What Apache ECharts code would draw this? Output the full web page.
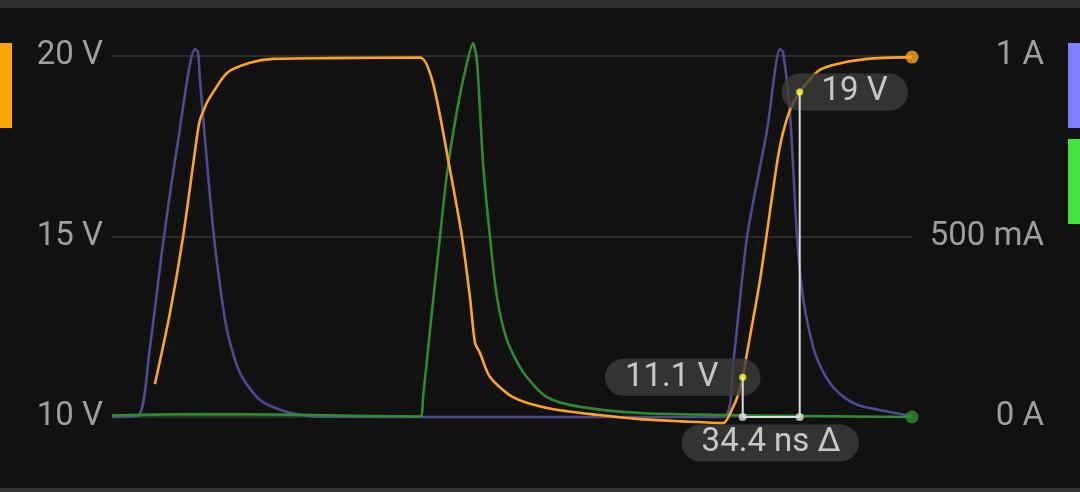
<!DOCTYPE html>
<html>
<head>
<meta charset="utf-8">
<script src="https://cdn.jsdelivr.net/npm/echarts@6/dist/echarts.min.js"></script>
<style>
html,body{margin:0;padding:0;background:#111111;}
#c{width:1080px;height:492px;}
</style>
</head>
<body>
<div id="c"></div>
<script>
// Time axis in ns
const voltT = [25.9, 35.0, 42.9, 51.3, 53.1, 57.2, 59.2, 69.4, 83.3, 97.2, 131.6, 186.0, 193.8, 204.1, 211.3, 216.1, 219.2, 222.2, 228.2, 242.1, 262.6, 292.8, 318.8, 344.0, 368.9, 375.0, 378.0, 380.8, 383.4, 391.2, 398.5, 402.1, 405.1, 409.3, 415.2, 425.6, 435.3, 455.8, 483.0];
const voltV = [10.91, 12.88, 14.99, 17.76, 18.23, 18.70, 18.86, 19.53, 19.81, 19.92, 19.94, 19.96, 19.25, 16.84, 14.99, 13.32, 12.05, 11.77, 11.11, 10.55, 10.25, 10.06, 9.94, 9.88, 9.83, 10.28, 10.61, 11.1, 11.77, 13.79, 16.09, 17.20, 17.87, 18.50, 19.0, 19.56, 19.75, 19.92, 19.97];

const cur1T = [0, 15.7, 22.9, 30.8, 39.4, 50.1, 51.9, 53.1, 59.2, 63.4, 69.4, 77.3, 89.4, 105.7, 123.8, 200.0, 368.9, 375.0, 383.4, 395.5, 403.3, 405.1, 409.3, 413.6, 417.2, 423.3, 429.3, 435.3, 442.5, 451.6, 469.7, 483.0];
const cur1A = [0, 0.003, 0.194, 0.48, 0.75, 1.019, 1.011, 0.934, 0.609, 0.427, 0.241, 0.122, 0.047, 0.014, 0.001, 0, 0, 0.15, 0.499, 0.795, 1.019, 1.011, 0.842, 0.499, 0.332, 0.194, 0.125, 0.083, 0.053, 0.031, 0.014, 0.003];

const cur2T = [0, 53.1, 113.5, 186.0, 187.8, 192.0, 198.0, 202.3, 208.3, 214.3, 218.0, 220.4, 224.0, 228.2, 232.4, 238.5, 248.1, 262.6, 282.6, 318.8, 362.8, 415.4, 483.0];
const cur2A = [0.004, 0.008, 0.006, 0.001, 0.055, 0.241, 0.499, 0.676, 0.850, 0.981, 1.036, 0.983, 0.704, 0.499, 0.332, 0.213, 0.125, 0.055, 0.028, 0.011, 0.006, 0.003, 0];

const cursorT = [380.8, 415.2];
const cursorV = [11.1, 19.0];
const cursorLabels = ['11.1 V', '19 V'];
const deltaLabel = '34.4 ns Δ';

const voltTicks = {10: '10 V', 15: '15 V', 20: '20 V'};
const curTicks = {0: '0 A', 0.5: '500 mA', 1: '1 A'};

const zip = (a, b) => a.map((v, i) => [v, b[i]]);

const FONT = 'Roboto';
const labelBox = {
  show: true,
  position: 'inside',
  fontFamily: FONT,
  fontSize: 33,
  color: '#ececec',
  backgroundColor: '#3c3d3b',
  borderRadius: 19,
  lineHeight: 37,
  height: 37
};

const chart = echarts.init(document.getElementById('c'), null, {renderer: 'canvas'});
chart.setOption({
  backgroundColor: '#111111',
  animation: false,
  grid: {left: 112, right: 168, top: 56, bottom: 75},
  xAxis: {type: 'value', min: 0, max: 483, show: false},
  yAxis: [
    {
      type: 'value', min: 10, max: 20, interval: 5, position: 'left',
      axisLine: {show: false}, axisTick: {show: false},
      axisLabel: {formatter: v => voltTicks[v], color: '#9e9e9e', fontFamily: FONT, fontSize: 33, margin: 9},
      splitLine: {lineStyle: {color: '#363636', width: 1.5}}
    },
    {
      type: 'value', min: 0, max: 1, interval: 0.5, position: 'right',
      axisLine: {show: false}, axisTick: {show: false},
      axisLabel: {formatter: v => curTicks[v], color: '#9e9e9e', fontFamily: FONT, fontSize: 33, align: 'right', margin: 132},
      splitLine: {show: false}
    }
  ],
  series: [
    {
      type: 'line', yAxisIndex: 1, data: zip(cur1T, cur1A), symbol: 'none', z: 2, clip: false,
      smooth: 0.25,
      lineStyle: {color: '#4b4b92', width: 2.6}
    },
    {
      type: 'line', yAxisIndex: 1, data: zip(cur2T, cur2A), symbol: 'none', z: 2, clip: false,
      smooth: 0.25,
      lineStyle: {color: '#2f8a31', width: 2.6}
    },
    {
      type: 'line', yAxisIndex: 0, data: zip(voltT, voltV), symbol: 'none', z: 2, clip: false,
      smooth: 0.25,
      lineStyle: {color: '#ffa41c', width: 2.6}
    },
    {
      type: 'scatter', yAxisIndex: 0, z: 2, symbol: 'circle', symbolSize: 13, clip: false,
      itemStyle: {color: '#ffa41c'},
      data: [[voltT[voltT.length - 1], voltV[voltV.length - 1]]]
    },
    {
      type: 'scatter', yAxisIndex: 1, z: 2, symbol: 'circle', symbolSize: 13, clip: false,
      itemStyle: {color: '#2f8a31'},
      data: [[cur2T[cur2T.length - 1], cur2A[cur2A.length - 1]]]
    },
    // label boxes
    {
      type: 'scatter', yAxisIndex: 0, z: 3, symbolSize: 1, clip: false,
      itemStyle: {color: 'rgba(0,0,0,0)'},
      data: [
        {value: [cursorT[0], cursorV[0]], label: Object.assign({}, labelBox, {formatter: cursorLabels[0], padding: [0, 42, 0, 20], offset: [-60, 0]})},
        {value: [cursorT[1], cursorV[1]], label: Object.assign({}, labelBox, {formatter: cursorLabels[1], padding: [0, 20, 0, 40], offset: [45, 0]})},
        {value: [(cursorT[0] + cursorT[1]) / 2, 10], label: Object.assign({}, labelBox, {formatter: deltaLabel, padding: [0, 18, 0, 20], offset: [-1, 26]})}
      ]
    },
    // bracket
    {
      type: 'line', yAxisIndex: 0, z: 4, symbol: 'none', clip: false,
      lineStyle: {color: '#dcdcdc', width: 2},
      data: [[cursorT[0], cursorV[0]], [cursorT[0], 10], [cursorT[1], 10], [cursorT[1], cursorV[1]]]
    },
    {
      type: 'scatter', yAxisIndex: 0, z: 5, symbol: 'circle', symbolSize: 8, clip: false,
      itemStyle: {color: '#dcdcdc'},
      data: [[cursorT[0], 10], [cursorT[1], 10]]
    },
    {
      type: 'scatter', yAxisIndex: 0, z: 5, symbol: 'circle', symbolSize: 7, clip: false,
      itemStyle: {color: '#ffff33'},
      data: zip(cursorT, cursorV)
    }
  ],
  graphic: [
    {type: 'rect', shape: {x: 0, y: 0, width: 1080, height: 8}, style: {fill: '#303030'}, silent: true},
    {type: 'rect', shape: {x: 0, y: 488, width: 1080, height: 4}, style: {fill: '#333333'}, silent: true},
    {type: 'rect', shape: {x: 0, y: 43, width: 12, height: 85}, style: {fill: '#ffa500'}, silent: true},
    {type: 'rect', shape: {x: 1068, y: 43, width: 12, height: 85}, style: {fill: '#8080ff'}, silent: true},
    {type: 'rect', shape: {x: 1068, y: 139, width: 12, height: 85}, style: {fill: '#44e33f'}, silent: true}
  ]
});
</script>
</body>
</html>
